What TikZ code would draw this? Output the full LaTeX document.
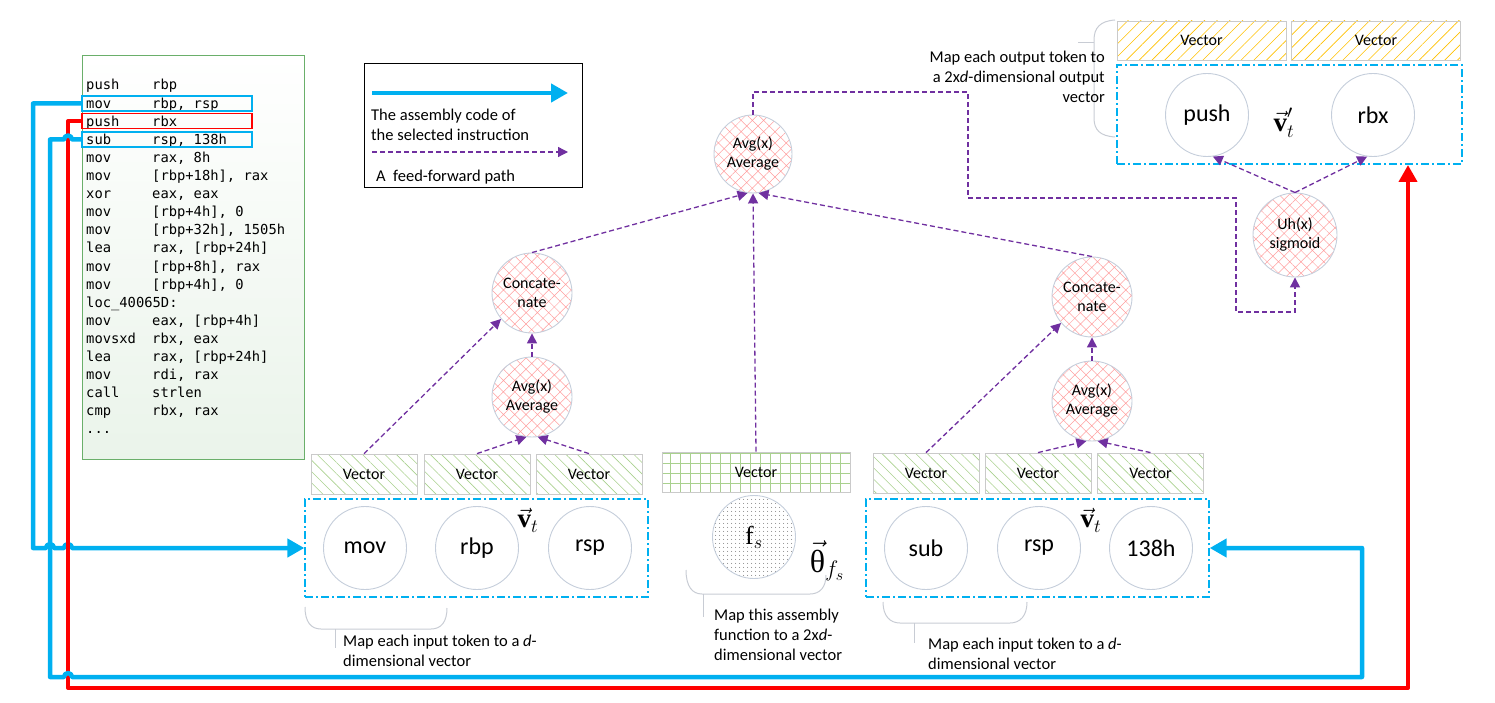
\RequirePackage{fix-cm}
\documentclass[tikz,border=0pt]{standalone}
\usepackage{fontspec}
\setmainfont{Carlito}
\newfontfamily\codefont{DejaVu Sans Mono}
\newfontfamily\timesfont{Liberation Serif}
\usetikzlibrary{arrows.meta,patterns.meta,positioning}

\definecolor{selblue}{HTML}{00B0F0}
\definecolor{selred}{HTML}{FF0000}
\definecolor{ffpurple}{HTML}{7030A0}
\definecolor{asmgreen}{HTML}{6AAF6A}
\definecolor{rimgrey}{HTML}{C5CEDB}
\definecolor{boxgrey}{HTML}{CACACA}
\definecolor{hatchgreen}{HTML}{A9D18E}
\definecolor{hatchorange}{HTML}{FFC000}
\definecolor{hatchpink}{HTML}{FF9F9F}
\definecolor{bracegrey}{HTML}{C8CCD4}

\tikzset{
  asmbox/.style={draw=asmgreen, line width=0.8pt, minimum width=222pt, minimum height=404pt,
    top color=white, bottom color=asmgreen!14},
  asmtext/.style={anchor=base west, inner sep=0pt, font=\codefont\fontsize{13.8}{15}\selectfont},
  selbox/.style={minimum width=170pt, minimum height=15pt, line width=1.5pt, inner sep=0pt},
  selline/.style={draw=selblue, line width=4.5pt, line join=round},
  redline/.style={draw=selred, line width=4pt, line join=round},
  bigtip/.style={-{Triangle[length=17pt,width=18pt]}},
  ffpath/.style={draw=ffpurple, line width=1.3pt, dash pattern=on 5pt off 3pt,
    -{Triangle[length=10pt,width=10pt]}},
  token/.style={circle, draw=rimgrey, line width=0.9pt, fill=white, minimum size=83pt,
    inner sep=0pt, font=\fontsize{24}{26}\selectfont},
  opnode/.style={circle, draw=rimgrey, line width=0.9pt, minimum size=80pt, inner sep=0pt,
    align=center, font=\fontsize{16}{19}\selectfont,
    pattern={Hatch[angle=45,distance=8pt,line width=0.5pt]}, pattern color=hatchpink},
  vecbox/.style={draw=boxgrey, line width=0.8pt, minimum width=106pt, minimum height=40pt,
    inner sep=0pt, font=\fontsize{16}{18}\selectfont,
    pattern={Lines[angle=-45,distance=8pt,line width=0.6pt]}, pattern color=hatchgreen},
  outvec/.style={vecbox, minimum width=169pt, minimum height=39pt,
    pattern={Lines[angle=45,distance=9pt,line width=0.6pt]}, pattern color=hatchorange},
  embbox/.style={draw=selblue, line width=1.3pt, dash pattern=on 8pt off 3pt on 2pt off 3pt,
    inner sep=0pt},
  vlabel/.style={inner sep=0pt, font=\timesfont\fontsize{27}{29}\selectfont},
  note/.style={inner sep=0pt, align=left, font=\fontsize{16.5}{20}\selectfont},
  brace/.style={draw=bracegrey, line width=1pt}
}

\begin{document}
\begin{tikzpicture}[x=1pt,y=-1pt]
\useasboundingbox (0,0) rectangle (1495,703);

% Assembly listing
\node[asmbox] (asm) at (193,257) {};
\foreach \mn/\arg [count=\i from 0] in {push/rbp, mov/{rbp, rsp}, push/rbx, sub/{rsp, 138h},
  mov/{rax, 8h}, mov/{[rbp+18h], rax}, xor/{eax, eax}, mov/{[rbp+4h], 0},
  mov/{[rbp+32h], 1505h}, lea/{rax, [rbp+24h]}, mov/{[rbp+8h], rax}, mov/{[rbp+4h], 0},
  {loc\_40065D:}/{}, mov/{eax, [rbp+4h]}, movsxd/{rbx, eax}, lea/{rax, [rbp+24h]},
  mov/{rdi, rax}, call/strlen, cmp/{rbx, rax}}{
  \node[asmtext] (mn\i) at (86,{90+18.1*\i}) {\mn};
  \node[asmtext] (arg\i) at (152,{90+18.1*\i}) {\arg};
}
\node[asmtext] (mnend) at (86,433.9) {...};
\node[selbox, draw=selblue] (selmov) at (167,103.5) {};
\node[selbox, draw=selred] (selpush) at (167,121) {};
\node[selbox, draw=selblue] (selsub) at (167,139.5) {};

% Legend
\node[draw=black, line width=0.8pt, minimum width=218pt, minimum height=124pt, inner sep=0pt] (legend) at (473,125) {};
\coordinate (lgA) at (372,93);
\coordinate (lgB) at (568,93);
\coordinate (lgC) at (372,152);
\coordinate (lgD) at (568,152);
\draw[selline, bigtip] (lgA) -- (lgB);
\node[note, anchor=west] (lgtext) at (371,125) {The assembly code of\\the selected instruction};
\draw[ffpath] (lgC) -- (lgD);
\node[note, anchor=west] (lgff) at (376,177) {A\ \ feed-forward path};

% Left instruction: mov rbp, rsp
\node[embbox, minimum width=343pt, minimum height=98pt] (lbox) at (476.5,548) {};
\node[token] (lmov) at (365,548) {mov};
\node[token] (lrbp) at (477,548) {rbp};
\node[token] (lrsp) at (590,548) {rsp};
\node[vlabel] (lvt) at (528,520) {$\vec{\hbox{\bfseries v}}_t$};
\node[vecbox] (lvec1) at (364,474) {Vector};
\node[vecbox] (lvec2) at (477,474) {Vector};
\node[vecbox] (lvec3) at (589,474) {Vector};
\node[opnode] (lavg) at (532,397) {Avg(x)\\Average};
\node[opnode] (lcat) at (532,293) {Concate-\\nate};
\draw[brace] (305,607) .. controls (305,622) and (311,629) .. (321,629) -- (431,629)
  .. controls (441,629) and (447,622) .. (447,608);
\draw[brace] (335,629) -- (335,648);
\node[note, anchor=west] (lnote) at (343,651) {Map each input token to a \textit{d}-\\dimensional vector};

% Function
\node[vecbox, minimum width=188pt, pattern={Hatch[angle=0,distance=10pt,line width=0.7pt]}] (cvec) at (756,472) {Vector};
\node[token, fill=none, pattern={Dots[distance=4pt,radius=0.55pt]}, pattern color=black!70,
  font=\timesfont\fontsize{26}{28}\selectfont] (fs) at (754,537) {f$_s$};
\node[vlabel, font=\timesfont\fontsize{32}{34}\selectfont] (theta) at (827,561) {$\vec{\hbox{θ}}_{f_s}$};
\node[opnode, minimum size=78pt] (cavg) at (753,154) {Avg(x)\\Average};
\draw[brace] (686,570) .. controls (686,586) and (692,594) .. (702,594) -- (810,594)
  .. controls (820,594) and (826,587) .. (826,575);
\draw[brace] (703,594) -- (703,617);
\node[note, anchor=west] (cnote) at (714,635) {Map this assembly\\function to a 2x\textit{d}-\\dimensional vector};

% Right instruction: sub rsp, 138h
\node[embbox, minimum width=343pt, minimum height=98pt] (rbox) at (1037.5,548) {};
\node[token] (rsub) at (926,548) {sub};
\node[token] (rrsp) at (1039,548) {rsp};
\node[token] (r138) at (1151,548) {138h};
\node[vlabel] (rvt) at (1091,520) {$\vec{\hbox{\bfseries v}}_t$};
\node[vecbox] (rvec1) at (926,473) {Vector};
\node[vecbox] (rvec2) at (1038,473) {Vector};
\node[vecbox] (rvec3) at (1150.5,473) {Vector};
\node[opnode] (ravg) at (1092,401) {Avg(x)\\Average};
\node[opnode] (rcat) at (1092,297) {Concate-\\nate};
\draw[brace] (883,602) .. controls (883,616) and (890,623) .. (900,623) -- (1010,623)
  .. controls (1020,623) and (1027,616) .. (1027,602);
\draw[brace] (914,623) -- (914,643);
\node[note, anchor=west] (rnote) at (928,654) {Map each input token to a \textit{d}-\\dimensional vector};

% Output: push rbx
\node[outvec] (ovec1) at (1201.5,40.5) {Vector};
\node[outvec] (ovec2) at (1376,40.5) {Vector};
\node[embbox, minimum width=345pt, minimum height=99pt] (obox) at (1289.5,114.5) {};
\node[token] (opush) at (1207,115) {push};
\node[token] (orbx) at (1373,115) {rbx};
\node[vlabel] (ovt) at (1284,123) {$\vec{\hbox{\bfseries v}}'_t$};
\node[opnode, minimum size=84pt] (uh) at (1295,235) {Uh(x)\\sigmoid};
\draw[brace] (1115,20) .. controls (1100,21) and (1094,28) .. (1094,40) -- (1094,118)
  .. controls (1094,130) and (1100,136) .. (1115,137);
\draw[brace] (1094,43) -- (1078,43);
\node[note, align=right, anchor=east] (onote) at (1105,77) {Map each output token to\\a 2x\textit{d}-dimensional output\\vector};

% Feed-forward paths
\draw[ffpath] (lvec1.north) -- (lcat.220);
\draw[ffpath] (lvec2.north) -- (lavg.262);
\draw[ffpath] (lvec3.north) -- (lavg.278);
\draw[ffpath] (lavg.north) -- (lcat.south);
\draw[ffpath] (lcat.north) -- (cavg.262);
\draw[ffpath] (cvec.north) -- (cavg.south);
\draw[ffpath] (rcat.north) -- (cavg.278);
\draw[ffpath] (rvec1.north) -- (rcat.220);
\draw[ffpath] (rvec2.north) -- (ravg.262);
\draw[ffpath] (rvec3.north) -- (ravg.278);
\draw[ffpath] (ravg.north) -- (rcat.south);
\draw[ffpath] (cavg.north) -- (753,92) -- (968,92) -- (968,198) -- (1236,198) -- (1236,312)
  -- (1295,312) -- (uh.south);
\draw[ffpath] (uh.north) -- (opush.278);
\draw[ffpath] (uh.north) -- (orbx.262);

% Selected instructions
\draw[selline, bigtip] (selmov.west) -- (33,103.5) -- (33,548) -- (46,548)
  arc[start angle=180, end angle=0, radius=4pt] -- (64,548)
  arc[start angle=180, end angle=0, radius=4pt] -- (lbox.west);
\draw[redline, -{Triangle[length=17pt,width=18pt]}] (selpush.west) -- (68,121) -- (68,688)
  -- (1408,688) -- (1408,165);
\draw[selline, bigtip] (selsub.west) -- (72,139.5)
  arc[start angle=0, end angle=180, radius=4pt] -- (50,139.5) -- (50,677) -- (64,677)
  arc[start angle=180, end angle=0, radius=4pt] -- (1362,677) -- (1362,548) -- (rbox.east);
\end{tikzpicture}
\end{document}
